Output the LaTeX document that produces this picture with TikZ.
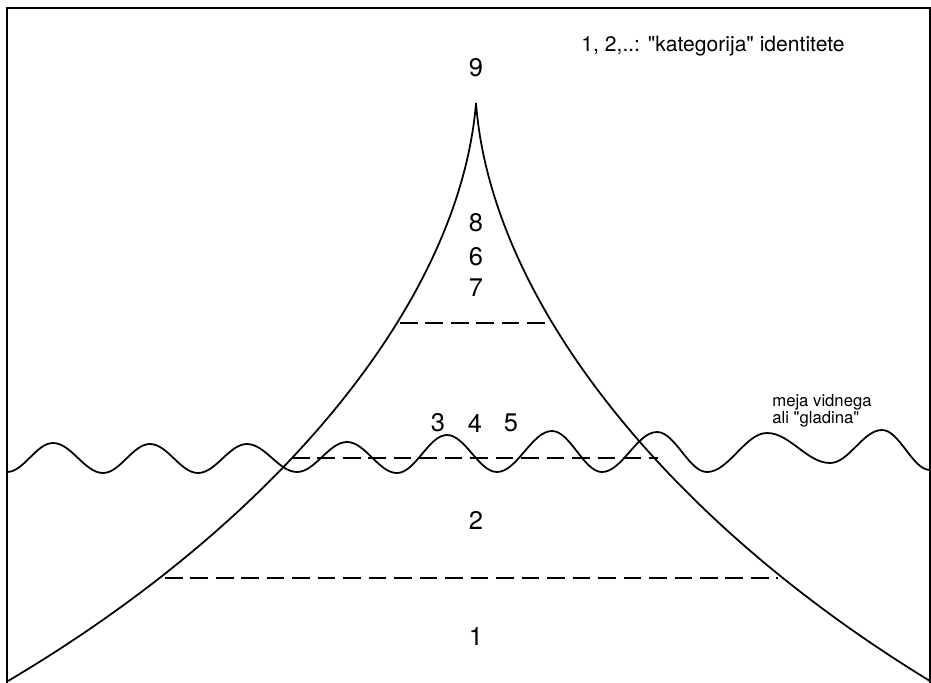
\documentclass[tikz,border=0pt]{standalone}
\usepackage{fontspec}
\setmainfont{TeX Gyre Heros}
\usepackage{tikz}
\usetikzlibrary{calc}

\begin{document}
\begin{tikzpicture}[
  x=0.02cm,y=-0.02cm,
  frame/.style={line width=1.5pt},
  edge/.style={line width=1pt},
  level/.style={line width=1pt,dash pattern=on 10pt off 4.5pt},
  num/.style={font=\fontsize{14.5}{16}\selectfont,inner sep=0pt},
  note/.style={font=\fontsize{12}{14}\selectfont,inner sep=0pt}
]
  \useasboundingbox (0,0) rectangle (931,683);

  % frame
  \draw[frame] (7,683) -- (7,8) -- (930,8) -- (930,683);

  % the peak
  \coordinate (apex) at (476,103);
  \coordinate (bl) at (8,681);
  \coordinate (br) at (930,681);
  \draw[edge] (bl) .. controls (280,520) and (460,300) .. (apex)
                   .. controls (491,300) and (666,520) .. (br);

  % levels
  \coordinate (l1) at (400,323);  \coordinate (r1) at (550,323);
  \coordinate (l2) at (292,458);  \coordinate (r2) at (658,458);
  \coordinate (l3) at (165,578);  \coordinate (r3) at (778,578);
  \draw[level] (l1) -- (r1);
  \draw[level] (l2) -- (r2);
  \draw[level] (l3) -- (r3);

  % surface
  \draw[edge] (7,472)
    \foreach \x/\y [remember=\x as \lx (initially 7),remember=\y as \ly (initially 472)] in
      {53/443,103/473,150/444,198/473,247/444,297/472,347/442,397/473,447/435,
       497/472,552/431,602/472,657/432,707/472,767/433,830/463,882/430,930/470}
    { cos ({(\lx+\x)/2},{(\ly+\y)/2}) sin (\x,\y) };

  % categories
  \node[num] (c9) at (476,68) {9};
  \node[num] (c8) at (476,223) {8};
  \node[num] (c6) at (476,257) {6};
  \node[num] (c7) at (476,288) {7};
  \node[num] (c3) at (438,423) {3};
  \node[num] (c4) at (475,423) {4};
  \node[num] (c5) at (511,423) {5};
  \node[num] (c2) at (476,520) {2};
  \node[num] (c1) at (476,636) {1};

  \node[note] (legend) at (713,46) {1, 2,..: \textquotedbl kategorija\textquotedbl{} identitete};
  \node[font=\fontsize{9.5}{9.5}\selectfont,align=left,anchor=west,inner sep=0pt] (surface)
    at (772,411) {meja vidnega\\ali \textquotedbl gladina\textquotedbl};
\end{tikzpicture}
\end{document}
